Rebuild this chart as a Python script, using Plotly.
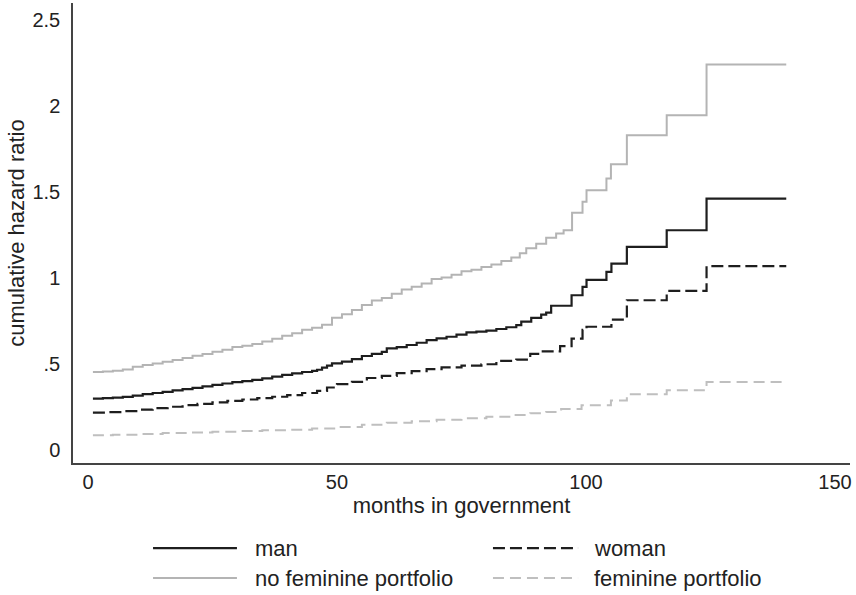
import plotly.graph_objects as go

# Nelson-Aalen cumulative hazard estimates by month in government
man_months = [1, 3, 5, 7, 9, 11, 13, 15, 17, 19, 21, 23, 25, 27, 29, 31, 33, 35, 37, 39,
              41, 43, 45, 46, 47, 48, 49, 51, 53, 55, 57, 59, 60, 62, 64, 66, 68, 70, 72,
              74, 76, 78, 80, 82, 84, 86, 87, 89, 91, 92, 93, 97.1, 99.3, 100.1, 104.1,
              105.1, 108.2, 116.2, 124.2, 140.2]
man_values = [0.300, 0.303, 0.306, 0.310, 0.318, 0.326, 0.333, 0.340, 0.348, 0.356, 0.363,
              0.371, 0.380, 0.388, 0.396, 0.402, 0.409, 0.418, 0.428, 0.438, 0.447, 0.455,
              0.462, 0.468, 0.480, 0.492, 0.505, 0.515, 0.530, 0.548, 0.560, 0.572, 0.592,
              0.600, 0.612, 0.625, 0.640, 0.650, 0.660, 0.672, 0.685, 0.690, 0.696, 0.705,
              0.715, 0.728, 0.748, 0.770, 0.788, 0.800, 0.840, 0.901, 0.950, 0.990, 1.037,
              1.085, 1.182, 1.279, 1.463, 1.463]

woman_months = [1, 4, 7, 10, 13, 16, 19, 22, 25, 28, 31, 34, 37, 40, 43, 46, 48, 50, 53, 56,
                59, 62, 65, 68, 71, 75, 79, 82, 86, 88.8, 91, 94.8, 97.1, 99.3, 100.1, 105.1,
                108.2, 116.2, 124.2, 140.2]
woman_values = [0.219, 0.222, 0.228, 0.236, 0.245, 0.253, 0.262, 0.270, 0.278, 0.287, 0.295,
                0.303, 0.311, 0.320, 0.333, 0.345, 0.365, 0.385, 0.398, 0.420, 0.432, 0.448,
                0.460, 0.472, 0.482, 0.492, 0.500, 0.520, 0.527, 0.560, 0.575, 0.605, 0.649,
                0.700, 0.718, 0.760, 0.872, 0.926, 1.071, 1.071]

nofem_months = [1, 3, 5, 7, 9, 11, 13, 15, 17, 19, 21, 23, 25, 27, 29, 31, 33, 35, 37, 39,
                41, 43, 45, 47, 49, 51, 53, 55, 57, 59, 61, 63, 65, 67, 69, 71, 73, 75, 77,
                79, 81, 83, 85, 86.7, 88, 90, 92, 94, 95.5, 97.2, 99.3, 100.1, 104.1, 105.0,
                108.2, 116.2, 124.2, 140.2]
nofem_values = [0.455, 0.458, 0.462, 0.470, 0.485, 0.495, 0.505, 0.515, 0.525, 0.537, 0.550,
                0.560, 0.572, 0.585, 0.600, 0.608, 0.618, 0.632, 0.648, 0.665, 0.680, 0.700,
                0.712, 0.730, 0.770, 0.790, 0.815, 0.845, 0.870, 0.885, 0.910, 0.935, 0.950,
                0.970, 0.995, 1.005, 1.020, 1.040, 1.050, 1.065, 1.080, 1.100, 1.120, 1.145,
                1.175, 1.200, 1.235, 1.260, 1.279, 1.380, 1.444, 1.512, 1.580, 1.663, 1.831,
                1.948, 2.242, 2.242]

fem_months = [1, 5, 10, 15, 20, 25, 30, 35, 40, 45, 50, 55, 60, 65, 70, 75, 80, 85, 88.8,
              92, 95, 99.1, 105.0, 108.2, 116.2, 124.2, 140.2]
fem_values = [0.087, 0.090, 0.095, 0.100, 0.104, 0.108, 0.112, 0.116, 0.120, 0.126, 0.135,
              0.148, 0.160, 0.168, 0.178, 0.186, 0.195, 0.205, 0.215, 0.223, 0.240, 0.262,
              0.290, 0.326, 0.349, 0.397, 0.397]

x_ticks = [0, 50, 100, 150]
y_ticks = [0, 0.5, 1, 1.5, 2, 2.5]
y_ticktext = ["0", ".5", "1", "1.5", "2", "2.5"]

FONT = "Liberation Sans, Arial, sans-serif"
TEXT = "#222222"
BLACK = "#1e1e1e"
GRAY = "#b4b4b4"
LIGHT = "#bfbfbf"

series = [
    ("man", man_months, man_values, BLACK, "solid", 2.2),
    ("woman", woman_months, woman_values, BLACK, "12px,5px", 2.2),
    ("no feminine portfolio", nofem_months, nofem_values, GRAY, "solid", 2.0),
    ("feminine portfolio", fem_months, fem_values, LIGHT, "11px,6px", 2.0),
]

fig = go.Figure()
for name, xs, ys, color, dash, width in series:
    fig.add_trace(go.Scatter(
        x=xs, y=ys, mode="lines", name=name,
        line=dict(color=color, dash=dash, width=width, shape="hv"),
        showlegend=False,
    ))

# Legend drawn as line samples with labels beneath the plot, two columns
legend_pos = [
    (0.103, 0.211, 0.232, -0.185),
    (0.5405, 0.650, 0.668, -0.185),
    (0.103, 0.211, 0.232, -0.250),
    (0.5405, 0.650, 0.668, -0.250),
]
for (name, xs, ys, color, dash, width), (x0, x1, xt, yy) in zip(series, legend_pos):
    fig.add_shape(type="line", xref="paper", yref="paper", x0=x0, x1=x1, y0=yy, y1=yy,
                  line=dict(color=color, dash=dash, width=width))
    fig.add_annotation(xref="paper", yref="paper", x=xt, y=yy, text=name,
                       showarrow=False, xanchor="left", yanchor="middle",
                       font=dict(family=FONT, size=22, color=TEXT))

fig.update_layout(
    width=856, height=595,
    margin=dict(l=73, r=6, t=3, b=132),
    plot_bgcolor="white", paper_bgcolor="white",
    font=dict(family=FONT, color=TEXT),
)
fig.update_xaxes(
    range=[-3, 153], tickvals=x_ticks, ticktext=[str(v) for v in x_ticks],
    showgrid=False, zeroline=False, showline=True, linecolor="#444444", linewidth=1.5,
    ticks="", tickfont=dict(family=FONT, size=20, color=TEXT),
    title=dict(text="months in government", standoff=1,
               font=dict(family=FONT, size=22, color=TEXT)),
)
fig.update_yaxes(
    range=[-0.074, 2.6], tickvals=y_ticks, ticktext=y_ticktext,
    showgrid=False, zeroline=False, showline=True, linecolor="#444444", linewidth=1.5,
    ticks="outside", ticklen=7, tickcolor="rgba(0,0,0,0)",
    tickfont=dict(family=FONT, size=20, color=TEXT),
    title=dict(text="cumulative hazard ratio", standoff=2,
               font=dict(family=FONT, size=22, color=TEXT)),
)

fig.write_html("out.html")
